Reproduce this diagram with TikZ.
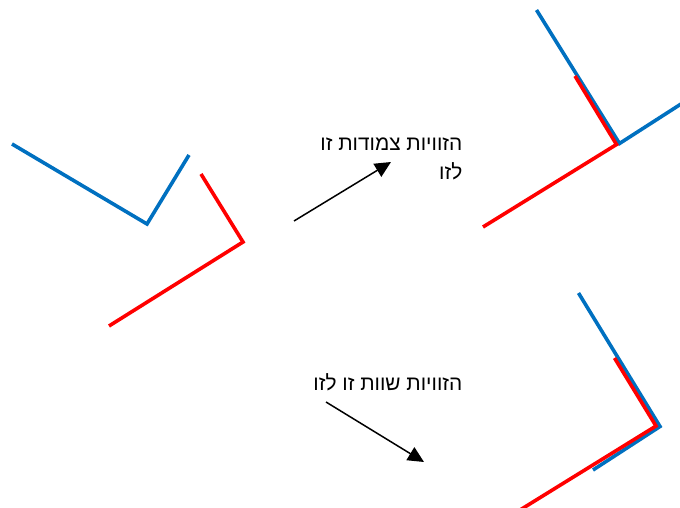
\documentclass[tikz,border=0pt]{standalone}
\usepackage{fontspec}
\newfontfamily\hebfont[Script=Hebrew]{Liberation Sans}
\TeXXeTstate=1
\usetikzlibrary{arrows.meta}
\definecolor{myblue}{RGB}{0,112,192}
\definecolor{myred}{RGB}{255,0,0}
\begin{document}
\begin{tikzpicture}[x=1pt,y=-1pt,
  blueline/.style={draw=myblue,line width=3.6pt,line join=miter},
  redline/.style={draw=myred,line width=3.6pt,line join=miter},
  pointer/.style={draw=black,line width=1.5pt,-{Triangle[length=16pt,width=15pt]}},
  heb/.style={font=\hebfont\fontsize{20.8}{29}\selectfont,inner sep=0pt,align=right}]
\useasboundingbox (0,0) rectangle (680,508);
% left pair
\coordinate (b1s) at (12,144);
\coordinate (b1c) at (147,224);
\coordinate (b1e) at (189,155);
\coordinate (r1s) at (201,174);
\coordinate (r1c) at (243,242);
\coordinate (r1e) at (109,326);
\draw[blueline] (b1s) -- (b1c) -- (b1e);
\draw[redline] (r1s) -- (r1c) -- (r1e);
% top right
\coordinate (b2s) at (536.5,10);
\coordinate (b2c) at (619.5,143.5);
\coordinate (b2e) at (681,104);
\coordinate (r2s) at (575,76);
\coordinate (r2c) at (616.5,144.5);
\coordinate (r2e) at (483,227);
\draw[blueline] (b2s) -- (b2c) -- (b2e);
\draw[redline] (r2s) -- (r2c) -- (r2e);
% bottom right
\coordinate (b3s) at (578.5,293);
\coordinate (b3c) at (660,426.5);
\coordinate (b3e) at (593,470);
\coordinate (r3s) at (614.5,358);
\coordinate (r3c) at (656,426);
\coordinate (r3e) at (520,510);
\draw[blueline] (b3s) -- (b3c) -- (b3e);
\draw[redline] (r3s) -- (r3c) -- (r3e);
% labels
\node[heb,anchor=base east] (t1) at (462.5,179) {\beginR הזוויות צמודות זו\endR\\\beginR לזו\endR};
\node[heb,anchor=base east] (t2) at (462.5,390) {\beginR הזוויות שוות זו לזו\endR};
% arrows
\coordinate (a1s) at (294,221);
\coordinate (a1e) at (391,162);
\coordinate (a2s) at (326,402);
\coordinate (a2e) at (424,462);
\draw[pointer] (a1s) -- (a1e);
\draw[pointer] (a2s) -- (a2e);
\end{tikzpicture}
\end{document}
